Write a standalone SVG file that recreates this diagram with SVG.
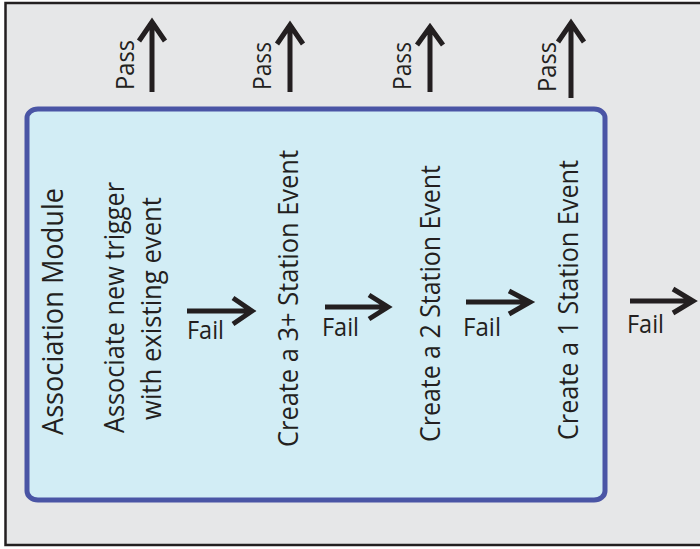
<svg xmlns="http://www.w3.org/2000/svg" width="700" height="549" viewBox="0 0 700 549">
  <style>
    .txt { font-family: "Open Sans", "Noto Sans", "Liberation Sans", sans-serif; fill: #231f20; }
    .big { font-size: 29px; }
    .mid { font-size: 27px; }
    .lbl { font-size: 26px; }
    .arr { fill: none; stroke: #231f20; stroke-width: 5; stroke-linejoin: miter; stroke-linecap: butt; }
  </style>
  <rect x="0" y="0" width="700" height="549" fill="#ffffff"/>
  <rect id="frame" x="5.5" y="3" width="720" height="542" fill="#e6e7e8" stroke="#231f20" stroke-width="2.5"/>

  <g id="module">
    <rect x="27" y="109" width="578" height="391" rx="11" ry="9" fill="#d2edf5" stroke="#4a55a5" stroke-width="5"/>
    <text class="txt big" text-anchor="middle" textLength="247" lengthAdjust="spacingAndGlyphs" transform="translate(62.5,311.5) rotate(-90)">Association Module</text>
  </g>

  <g id="associate">
    <text class="txt mid" text-anchor="middle" textLength="251" lengthAdjust="spacingAndGlyphs" transform="translate(123.5,307.5) rotate(-90)">Associate new trigger</text>
    <text class="txt mid" text-anchor="middle" textLength="223" lengthAdjust="spacingAndGlyphs" transform="translate(161,308.5) rotate(-90)">with existing event</text>
  </g>

  <g id="create3">
    <text class="txt mid" text-anchor="middle" textLength="297" lengthAdjust="spacingAndGlyphs" transform="translate(297.5,298.5) rotate(-90)">Create a 3+ Station Event</text>
  </g>

  <g id="create2">
    <text class="txt mid" text-anchor="middle" textLength="277" lengthAdjust="spacingAndGlyphs" transform="translate(439.5,303.5) rotate(-90)">Create a 2 Station Event</text>
  </g>

  <g id="create1">
    <text class="txt mid" text-anchor="middle" textLength="280" lengthAdjust="spacingAndGlyphs" transform="translate(577.5,300) rotate(-90)">Create a 1 Station Event</text>
  </g>

  <g id="connectors">
    <!-- Pass arrows -->
    <path class="arr" d="M152,92 V24 M139,41 L152,22 L165,41"/>
    <path class="arr" d="M290,92 V27 M277,44 L290,25 L303,44"/>
    <path class="arr" d="M430,92 V29 M417,45 L430,27 L443,45"/>
    <path class="arr" d="M571,98 V25 M558,42 L571,23 L584,42"/>
    <text class="txt lbl" text-anchor="middle" textLength="50" lengthAdjust="spacingAndGlyphs" transform="translate(134,65) rotate(-90)">Pass</text>
    <text class="txt lbl" text-anchor="middle" textLength="48" lengthAdjust="spacingAndGlyphs" transform="translate(271,66) rotate(-90)">Pass</text>
    <text class="txt lbl" text-anchor="middle" textLength="48" lengthAdjust="spacingAndGlyphs" transform="translate(411,66) rotate(-90)">Pass</text>
    <text class="txt lbl" text-anchor="middle" textLength="50" lengthAdjust="spacingAndGlyphs" transform="translate(556,67) rotate(-90)">Pass</text>
    <!-- Fail arrows -->
    <path class="arr" d="M187,311 H250 M233,298 L252,311 L233,324"/>
    <path class="arr" d="M325,307 H386 M369,295 L388,307 L369,319"/>
    <path class="arr" d="M466,302 H528 M509,291 L530,302 L509,314"/>
    <path class="arr" d="M630,301 H691 M673,289 L693,301 L673,313"/>
    <text class="txt lbl" x="187" y="339" textLength="37" lengthAdjust="spacingAndGlyphs">Fail</text>
    <text class="txt lbl" x="322" y="336" textLength="37" lengthAdjust="spacingAndGlyphs">Fail</text>
    <text class="txt lbl" x="463" y="336" textLength="38" lengthAdjust="spacingAndGlyphs">Fail</text>
    <text class="txt lbl" x="627" y="333" textLength="37" lengthAdjust="spacingAndGlyphs">Fail</text>
  </g>
</svg>
